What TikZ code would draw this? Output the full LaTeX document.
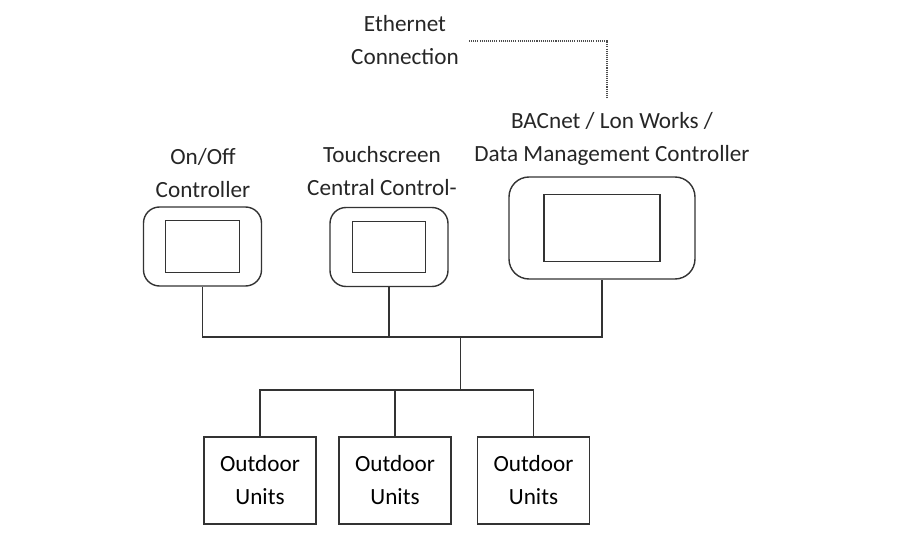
\documentclass[tikz,border=0pt]{standalone}
\usepackage{fontspec}
\setmainfont{Carlito}
\usetikzlibrary{positioning}

\begin{document}
\begin{tikzpicture}
  \tikzset{mywire/.style={draw=black!80, line width=0.8pt}};
  \tikzset{mypanel/.style={draw=black!80, line width=0.8pt, rounded corners=0.32cm, minimum width=2.36cm, minimum height=1.58cm}};
  \tikzset{myscreen/.style={draw=black!80, line width=0.8pt, minimum width=1.47cm, minimum height=1.03cm}};
  \tikzset{myunit/.style={draw=black!80, line width=0.8pt, minimum width=2.24cm, minimum height=1.74cm, align=center}};
  \tikzset{mylabel/.style={align=center, text=black!85}};
  \tikzset{every node/.style={font=\fontsize{13.2}{18.8}\selectfont, inner sep=0pt}};
  \useasboundingbox (0,0) rectangle (18,-11);

  \node[mypanel] (onoff) at (4.05,-4.93) {};
  \node[myscreen] (onscr) at (onoff) {};
  \node[mypanel] (touch) at (7.78,-4.94) {};
  \node[myscreen] (toscr) at (touch) {};
  \node[mypanel, minimum width=3.72cm, minimum height=2.04cm, rounded corners=0.4cm] (bac) at (12.04,-4.56) {};
  \node[myscreen, minimum width=2.32cm, minimum height=1.34cm] (bacscr) at (bac) {};

  \node[mylabel] (onlbl) at (4.06,-3.47) {On/Off\\Controller};
  \node[mylabel] (tolbl) at (7.64,-3.43) {Touchscreen\\Central Control-};
  \node[mylabel] (baclbl) at (12.24,-2.78) {BACnet / Lon Works /\\Data Management Controller};
  \node[mylabel] (ethlbl) at (8.1,-0.8) {Ethernet\\Connection};

  \node[myunit] (od1) at (5.2,-9.61) {Outdoor\\Units};
  \node[myunit] (od2) at (7.9,-9.61) {Outdoor\\Units};
  \node[myunit] (od3) at (10.67,-9.61) {Outdoor\\Units};

  \coordinate (bus) at (9.21,-6.74);
  \coordinate (split) at (9.21,-7.8);
  \coordinate (eth) at (9.38,-0.82);
  \coordinate (ethend) at (12.14,-1.96);

  % controller bus
  \draw [mywire] (onoff.south) -- (onoff.south |- bus) -- (bac.south |- bus) -- (bac.south);
  \draw [mywire] (touch.south) -- (touch.south |- bus);
  \draw [mywire] (bus) -- (split);
  % outdoor units
  \draw [mywire] (od1.north) -- (od1.north |- split) -- (od3.north |- split) -- (od3.north);
  \draw [mywire] (od2.north) -- (od2.north |- split);
  % ethernet
  \draw [black!70, line width=0.9pt, dash pattern=on 0.6pt off 0.6pt] (eth) -| (ethend);
\end{tikzpicture}
\end{document}
